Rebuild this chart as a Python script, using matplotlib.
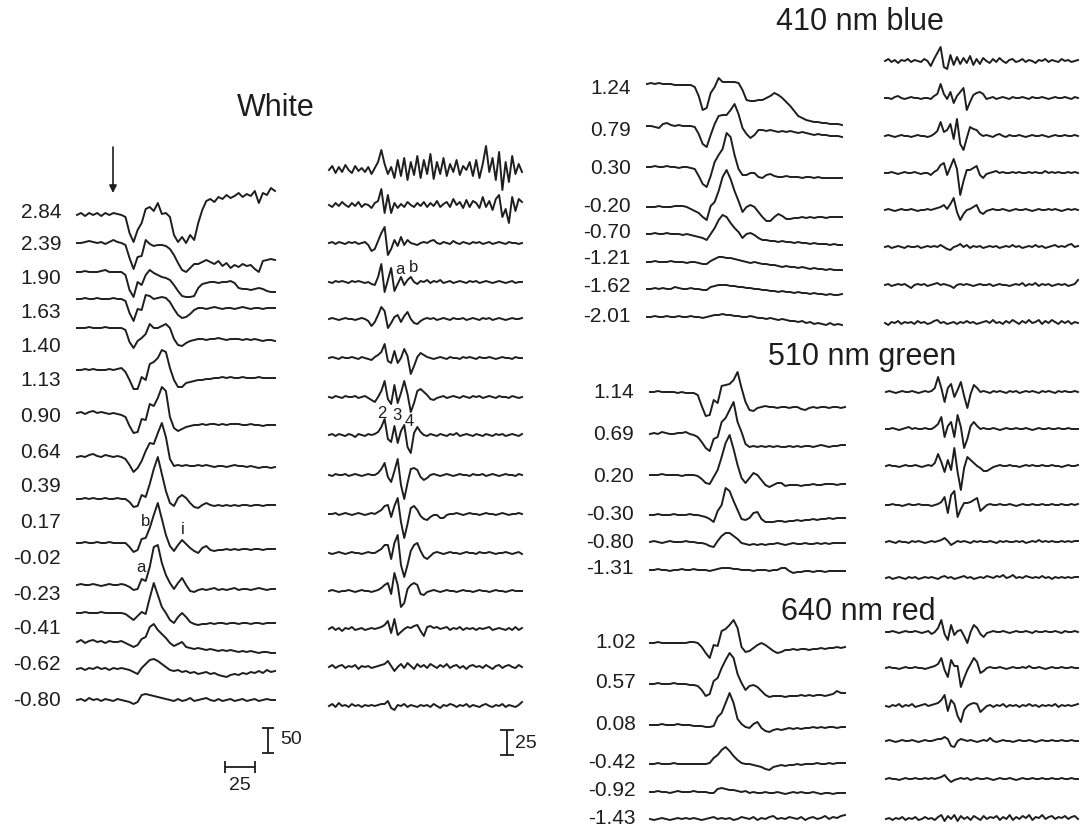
import numpy as np
import matplotlib
matplotlib.use("Agg")
import matplotlib.pyplot as plt

plt.rcParams["font.family"] = ["Liberation Sans", "DejaVu Sans"]

# Sample times (ms relative to the flash) for the ERG and oscillatory-potential sweeps
ERG_T = np.linspace(-30, 135, 50)
OP_T = np.linspace(-30, 135, 60)

# ---------------- White flash series (log cd s m^-2) ----------------
white_labels = ["2.84", "2.39", "1.90", "1.63", "1.40", "1.13", "0.90", "0.64",
                "0.39", "0.17", "-0.02", "-0.23", "-0.41", "-0.62", "-0.80"]

# ERG responses, µV
white_erg = [
    [0,4,-2,4,0,4,-2,4,0,4, 2,0,-4,-36,-54,-30,-16,12,16,8, 24,2,4,-4,-40,-54,-44,-56,-40,-50, -16,10,28,32,26,36,32,40,34,38, 44,36,42,38,48,24,44,40,54,48],
    [0,0,2,4,2,0,2,-2,2,6, 2,0,-4,-30,-52,-28,-26,6,-2,-6, -4,-4,-6,-12,-24,-40,-54,-58,-50,-42, -42,-38,-34,-38,-42,-36,-46,-40,-50,-44, -48,-42,-46,-44,-52,-58,-36,-34,-32,-34],
    [0,0,2,0,0,0,2,4,0,0, 0,0,-6,-36,-50,-20,-26,-6,4,-2, -6,-10,-12,-16,-26,-38,-48,-50,-50,-48, -32,-24,-22,-20,-20,-22,-20,-20,-18,-22, -32,-34,-34,-36,-34,-32,-34,-38,-40,-40],
    [0,0,2,0,0,2,0,0,0,2, 0,0,-4,-28,-44,-20,-22,8,6,0, 2,4,2,-6,-20,-32,-38,-36,-30,-22, -18,-18,-20,-18,-16,-18,-20,-18,-18,-20, -18,-16,-18,-20,-18,-18,-20,-18,-18,-18],
    [0,0,0,2,0,0,0,2,0,0, 0,0,-4,-28,-40,-26,-20,-12,8,0, 0,4,8,0,-22,-34,-36,-30,-26,-24, -22,-22,-24,-22,-22,-20,-22,-24,-22,-22, -22,-24,-22,-24,-22,-24,-26,-24,-24,-26],
    [0,0,2,0,2,0,0,0,2,0, 2,4,-4,-20,-38,-38,-14,-20,12,16, 24,40,36,4,-20,-34,-34,-26,-24,-22, -20,-20,-18,-18,-16,-16,-14,-16,-14,-16, -16,-14,-16,-16,-16,-14,-16,-16,-16,-16],
    [0,2,-2,2,4,0,2,0,-2,0, -2,-4,-8,-26,-40,-38,-12,-14,18,14, 30,52,44,-8,-30,-36,-32,-28,-26,-24, -24,-22,-24,-22,-22,-24,-22,-24,-22,-22, -22,-24,-24,-22,-24,-24,-26,-24,-24,-24],
    [0,2,0,4,6,2,0,4,2,0, 2,0,-4,-16,-30,-22,-8,12,28,26, 48,68,40,-4,-18,-16,-18,-16,-18,-18, -16,-18,-16,-18,-20,-18,-18,-20,-18,-16, -18,-18,-20,-18,-20,-22,-20,-20,-22,-20],
    [0,0,2,0,2,0,0,2,0,0, 2,0,0,-6,-16,-14,8,4,30,60, 84,50,16,-8,-14,2,8,2,-8,-16, -18,-12,-8,-12,-14,-12,-14,-12,-14,-12, -14,-12,-12,-14,-12,-12,-14,-12,-12,-12],
    [0,0,2,0,0,2,0,0,2,0, 0,0,0,-8,-18,-14,8,10,30,56, 80,48,16,-6,-16,-4,6,-2,-10,-16, -20,-10,-6,-14,-16,-14,-14,-12,-14,-12, -14,-12,-12,-14,-12,-12,-14,-12,-12,-12],
    [0,2,0,0,2,0,-2,0,2,0, 0,2,0,-4,-10,-8,12,8,36,76, 80,44,20,4,-8,4,14,0,-12,-14, -10,-8,-10,-8,-6,-10,-8,-10,-8,-6, -10,-8,-8,-10,-8,-6,-8,-10,-8,-8],
    [0,0,2,0,0,0,2,0,0,0, 0,0,-2,-8,-14,-6,2,-2,30,60, 36,12,0,-14,-20,-8,0,-8,-18,-22, -24,-22,-22,-20,-22,-20,-20,-22,-20,-20, -22,-20,-20,-22,-20,-20,-22,-20,-20,-20],
    [0,4,-2,2,4,0,2,-2,2,0, 0,2,-2,-6,-10,-6,6,10,30,36, 24,16,8,-2,-8,-4,0,-10,-12,-14, -12,-14,-16,-14,-16,-18,-16,-18,-16,-18, -20,-18,-20,-18,-20,-22,-20,-20,-22,-22],
    [0,2,-2,2,0,4,0,2,-2,2, 0,2,0,-2,-6,-10,2,10,18,20, 16,10,4,-2,-4,-2,-6,-4,-8,-6, -10,-8,-6,-10,-8,-12,-14,-16,-12,-10, -12,-8,-10,-6,-8,-4,-8,-2,-6,-4],
    [0,2,-2,4,0,2,-2,2,0,-2, 2,0,-2,-4,-8,-4,10,12,10,8, 6,4,2,0,-2,2,-2,0,4,-2, 0,2,4,0,-2,2,-2,0,2,-2, 0,2,-2,0,2,-2,0,2,0,0],
]

# Oscillatory potentials, µV
white_op = [
    [0,4,-3,3,-2,5,0,-3,4,-1, 2,-2,3,-4,2,8,20,6,-4,3, -8,10,-6,12,-10,8,-5,14,-8,10, -4,16,-9,8,-4,12,-6,6,-2,10, -5,4,0,8,-6,10,-8,6,24,-2, 12,-10,18,-20,8,-12,14,-4,6,-2],
    [0,-2,2,-1,3,0,-2,2,-1,3, -2,1,0,-3,2,4,16,-8,10,-8, 2,-3,1,-2,3,0,-2,2,-1,3, -2,2,-1,4,-2,1,3,-2,6,0, 3,-3,5,-2,4,2,-3,8,-2,4, -5,6,10,-12,-4,-18,8,-6,6,3],
    [0,1,-1,1,0,-1,1,0,1,-1, 0,1,-2,-8,-6,2,10,16,-12,-6, 3,-3,6,-2,3,0,-1,-2,0,1, 0,2,3,0,-1,1,0,-1,2,0, -1,1,0,-1,1,0,1,-1,0,1, -1,0,1,0,-1,1,0,0,-1,0],
    [0,-1,1,0,1,0,-1,1,0,1, 0,-1,0,-2,-3,5,18,-10,2,14, -9,-2,5,-3,2,5,0,-2,1,0, 2,-1,1,0,2,-1,0,1,-1,0, 1,0,-1,1,0,1,-1,0,1,0, -1,0,1,0,-1,0,1,-1,0,0],
    [0,1,0,-1,0,1,0,0,-1,0, 1,0,-2,-7,-3,4,12,8,-9,-4, 2,4,-3,3,7,0,-4,-5,-2,0, 1,0,1,-1,0,1,0,-1,1,0, 0,1,-1,0,1,0,-1,1,0,1, -1,0,1,0,-1,0,1,0,0,1],
    [0,1,0,-1,1,0,0,1,0,-1, 1,0,-1,-2,1,3,6,14,-3,-5, 7,-5,0,9,2,-16,-8,1,5,3, 1,0,-1,0,1,0,-1,1,0,0, -1,1,0,1,0,-1,1,0,0,1, 0,-1,0,1,0,0,-1,1,0,0],
    [0,-1,1,0,-1,1,0,0,1,-1, 0,1,-1,-3,-5,0,6,16,-2,-7, 12,-6,4,16,3,-15,-6,6,8,5, 2,-2,-3,-1,0,1,-1,0,1,0, -1,1,0,-1,1,0,1,-1,0,1, 0,-1,1,0,0,-1,1,0,-1,0],
    [0,1,-1,1,0,-1,1,0,-2,1, 0,-1,1,0,1,3,8,16,-4,-7, 9,-8,4,10,-12,-18,2,8,3,0, -1,1,0,-1,1,0,-1,1,0,2, -1,0,1,0,-1,1,0,-1,1,0, -1,1,0,1,-1,0,1,0,-1,1],
    [0,-1,1,0,0,1,-1,0,1,0, -1,0,1,0,0,2,6,12,-2,-7, 4,16,-10,-24,-8,6,7,5,-2,-5, -3,0,1,0,-1,0,1,0,-1,0, 1,0,0,-1,1,0,0,1,-1,0, 1,0,-1,0,1,0,0,-1,1,0],
    [0,0,1,-1,0,1,0,-1,0,1, 0,-1,0,1,0,2,4,8,9,-3, 8,16,-8,-24,-10,6,8,4,-2,-5, -6,-3,-1,-1,-4,-4,-1,0,0,1, 0,-1,0,1,0,0,-1,0,1,0, 0,-1,0,1,0,-1,0,0,1,0],
    [0,-1,0,1,0,-1,0,1,0,0, -1,0,1,0,0,2,4,8,8,-6, 10,18,-12,-24,-12,2,8,10,2,-4, -6,-3,0,1,0,-1,0,1,0,0, -1,0,1,0,0,-1,1,0,0,1, 0,-1,0,0,1,0,-1,0,1,-1],
    [0,1,0,-1,0,0,1,0,-1,0, 1,0,0,-1,0,1,3,6,8,-3, 18,6,-16,-12,2,6,8,6,-3,-4, -1,0,1,0,-1,0,1,0,0,-1, 0,1,0,0,-1,0,1,0,0,-1, 0,1,0,0,-1,0,1,0,0,0],
    [0,2,-1,1,-2,1,0,2,-1,0, 1,-1,0,1,0,1,2,4,8,-4, 10,-6,-3,0,2,1,3,4,-2,-7, 2,3,1,2,0,1,2,-1,1,0, 2,-1,1,0,1,-1,1,0,1,2, -1,0,1,0,-1,1,-1,2,-1,1],
    [0,2,-1,1,2,-1,1,0,2,-2, 1,0,1,-1,0,1,2,3,6,1, -4,0,3,-1,4,1,-2,3,0,2, -1,3,1,-1,2,0,3,-1,1,2, -1,1,-2,1,2,0,1,-1,2,0, -2,1,2,-1,1,2,0,-1,2,0],
    [0,2,-1,3,0,1,-1,2,0,1, -1,1,0,1,0,1,2,2,5,-2, -4,1,0,2,-1,1,0,-1,1,0, 1,-1,2,0,-2,1,0,2,1,-1, 1,0,2,-1,1,0,-1,1,2,0, -1,1,0,2,-1,1,0,-1,1,4],
]

# ---------------- 410 nm (blue) series ----------------
blue_labels = ["1.24", "0.79", "0.30", "-0.20", "-0.70", "-1.21", "-1.62", "-2.01"]
blue_erg = [
    [0,2,0,2,0,0,0,-2,-2,-2, -2,-2,-6,-24,-52,-48,-18,-6,12,4, 4,4,4,2,-12,-32,-34,-34,-32,-32, -28,-24,-18,-22,-28,-36,-44,-54,-64,-68, -72,-74,-76,-76,-78,-78,-80,-80,-80,-82],
    [0,0,-2,-4,4,6,2,0,2,0, 0,0,-2,-16,-36,-42,-18,4,20,22, 22,32,44,24,-4,-16,-24,-18,-8,-8, -10,-8,-10,-12,-10,-12,-10,-12,-14,-12, -14,-16,-18,-16,-18,-18,-20,-20,-20,-22],
    [0,0,2,0,0,2,0,0,-2,0, 0,-2,-4,-18,-34,-40,-18,10,24,36, 68,60,24,-4,-16,-16,-12,-12,-20,-22, -16,-14,-18,-20,-20,-18,-20,-20,-20,-22, -20,-20,-22,-20,-22,-22,-22,-22,-22,-22],
    [0,0,0,2,0,0,0,2,2,2, 0,-4,-8,-12,-20,-26,2,10,32,60, 74,56,32,12,-10,0,4,0,-10,-20, -28,-28,-20,-14,-18,-24,-24,-22,-22,-20, -22,-20,-22,-20,-20,-22,-20,-20,-20,-20],
    [0,0,2,0,0,2,0,0,0,-2, 0,-2,-4,-6,-8,-12,0,12,28,38, 34,22,12,4,-8,0,2,-2,-8,-12, -12,-14,-14,-16,-14,-16,-16,-18,-16,-18, -18,-20,-18,-20,-20,-20,-22,-20,-22,-22],
    [0,0,2,0,0,0,2,0,0,0, -2,0,0,-2,-4,-4,2,6,10,10, 8,8,6,4,2,0,-2,0,-2,-4, -4,-6,-6,-8,-10,-8,-10,-10,-12,-10, -12,-14,-12,-14,-14,-16,-14,-16,-16,-16],
    [0,0,2,0,2,0,0,4,2,0, 0,2,0,0,-2,-2,4,6,8,8, 8,6,6,4,4,2,2,0,0,-2, -2,-4,-4,-6,-4,-6,-6,-8,-6,-8, -8,-10,-8,-10,-10,-12,-10,-12,-12,-10],
    [0,0,2,0,0,2,0,0,2,0, 0,2,0,0,-2,0,2,4,4,6, 4,4,2,2,0,0,2,0,-2,-2, -4,-2,-4,-6,-4,-6,-8,-8,-10,-8, -12,-10,-14,-12,-14,-16,-12,-16,-14,-16],
]
blue_op = [
    [0,2,-1,1,-2,1,0,2,-1,1, 0,-1,2,0,-5,2,8,14,-6,-8, 6,-4,4,-3,3,-2,5,-4,2,-3, 3,0,-2,2,-1,3,0,-2,1,2, -1,0,2,-1,1,0,-2,1,0,2, -1,1,0,-1,2,0,1,-1,0,1],
    [0,0,-1,1,2,0,-1,0,1,0, 0,-1,0,0,-1,2,4,14,4,-1, 6,-5,2,6,10,-12,-4,3,5,6, 4,-1,0,1,-1,0,1,0,-1,1, 0,0,1,0,-1,1,0,0,1,0, -1,0,1,0,0,1,0,-1,1,0],
    [0,1,0,-1,0,1,0,0,-1,0, 1,0,0,-1,0,2,5,14,4,6, 12,-3,17,-8,-14,-2,9,7,6,2, 0,1,0,-1,1,2,0,-1,1,0, 0,1,0,-1,0,1,0,0,1,0, -1,0,1,0,0,1,0,0,1,0],
    [0,0,1,0,-1,0,1,0,0,1, 0,-1,0,0,-2,1,3,8,10,-2, 6,14,4,-22,-8,3,3,5,7,-2, -5,-1,0,1,2,0,1,0,0,1, 0,1,0,0,1,0,1,0,0,2, 0,1,0,1,0,0,1,0,1,0],
    [0,1,0,-1,0,1,0,0,1,0, -1,0,0,1,0,1,2,3,5,1, 6,12,-2,-10,-4,0,1,3,5,-2, -4,-1,0,1,0,0,1,0,-1,0, 1,0,0,1,0,-1,0,1,0,0, 1,0,1,0,-1,0,1,0,1,0],
    [0,1,-1,0,1,0,-1,1,0,0, 1,-1,0,1,0,1,0,2,0,-2, -3,0,1,3,0,2,-1,1,0,1, -1,0,1,0,1,-1,0,1,0,2, 0,1,-1,0,1,0,2,0,1,-1, 0,1,2,0,1,0,2,3,0,1],
    [0,1,-1,0,1,0,1,-1,-3,0, 1,0,1,-1,0,1,2,0,1,0, -1,-3,0,1,0,1,0,-1,0,1, 0,0,1,-1,0,1,0,0,-1,0, 1,0,2,-1,1,0,2,-1,1,0, 1,-1,0,1,0,1,-1,0,1,5],
    [0,-2,1,0,2,-1,1,0,1,-1, 2,0,1,-1,0,2,3,0,1,-1, 0,1,-1,1,0,2,0,1,-1,0, 1,2,0,3,0,1,-1,2,0,3, 1,-1,2,0,3,0,1,3,-1,2, 0,3,1,-1,2,0,2,-1,1,0],
]

# ---------------- 510 nm (green) series ----------------
green_labels = ["1.14", "0.69", "0.20", "-0.30", "-0.80", "-1.31"]
green_erg = [
    [0,0,2,0,0,0,0,-2,0,-2, -2,-2,-6,-28,-48,-46,-16,-22,12,14, 16,24,40,8,-20,-36,-38,-32,-30,-28, -30,-30,-32,-30,-30,-32,-30,-30,-34,-36, -32,-30,-32,-30,-30,-32,-30,-30,-32,-30],
    [0,2,0,4,2,0,0,2,2,4, 0,-2,-6,-16,-28,-34,-10,-6,24,32, 48,64,24,4,-20,-26,-24,-26,-24,-26, -24,-26,-24,-26,-26,-24,-26,-24,-26,-24, -24,-26,-24,-22,-24,-26,-24,-24,-22,-22],
    [0,0,0,2,0,0,0,0,-2,0, 0,0,-2,-8,-16,-18,-4,10,36,64, 80,52,20,-6,-16,-6,4,0,-10,-20, -24,-20,-16,-16,-22,-20,-20,-20,-22,-20, -20,-18,-20,-20,-18,-18,-18,-20,-18,-18],
    [0,0,2,0,0,0,2,0,0,0, 2,0,0,-2,-4,-8,-14,8,20,54, 48,28,10,-8,-10,-6,4,6,-8,-14, -14,-14,-12,-12,-14,-12,-12,-10,-12,-10, -10,-8,-10,-8,-8,-6,-8,-6,-6,-6],
    [0,2,0,-2,0,2,0,0,0,2, 0,0,-2,-2,-4,-8,-10,2,12,18, 18,12,6,-2,-4,-6,-4,-6,-4,-6, -4,-4,-2,-4,-6,-4,-2,-4,-4,-2, -4,-4,-2,-4,-2,-4,-2,-2,-2,-2],
    [0,0,2,0,0,-2,0,0,2,0, 0,2,0,0,0,-2,0,2,4,4, 4,2,2,0,0,0,-2,0,0,0, -2,0,0,4,4,-2,-6,-4,-4,-2, -2,-4,-2,-2,-4,-2,-2,-2,-2,-2],
]
green_op = [
    [0,1,0,-1,0,1,0,0,1,0, -1,0,1,0,1,4,15,4,-10,4, 8,-5,2,10,-4,-16,-2,7,4,0, 1,0,-1,1,0,1,0,-1,1,0, 1,-1,0,1,0,1,0,-1,1,0, 1,0,-1,1,0,1,0,0,1,0],
    [0,0,1,0,-1,0,1,2,0,1, 0,0,1,0,0,2,5,12,-8,3, 7,-8,14,2,-19,-10,3,7,3,0, 1,0,0,1,0,-1,0,1,0,0, 1,0,0,1,0,-1,0,1,0,0, 1,0,0,1,0,0,1,0,0,0],
    [0,1,0,0,-1,0,1,0,0,1, 0,-1,0,1,0,3,12,4,-6,6, -4,18,-6,-24,-2,9,6,3,0,-2, -5,-5,-3,-1,0,1,0,0,1,0, 0,-1,0,1,0,1,0,0,1,0, 0,1,0,0,-1,0,1,0,0,1],
    [0,0,1,0,0,-1,0,1,0,0, 1,0,0,0,-1,0,1,3,8,-8, 10,14,-12,-4,2,2,3,5,7,-6, -3,0,1,0,0,1,0,0,1,0, -1,0,1,0,0,1,0,0,1,0, 0,1,0,0,1,0,0,1,0,1],
    [0,1,0,-1,1,0,0,-1,1,0, 1,0,-1,0,1,0,1,2,4,1, -3,-1,1,0,1,0,-1,1,0,1, 0,0,1,0,-1,1,0,1,0,0, 1,0,1,-1,0,1,0,2,0,1, 0,1,0,0,1,0,1,0,1,1],
    [0,1,-1,0,1,0,-1,1,0,1, -1,0,1,0,1,0,-1,1,2,0, 1,-1,0,1,2,0,1,-1,0,1, 0,2,1,0,2,1,3,0,1,3, 0,1,0,2,1,0,1,0,2,0, 1,-1,1,0,1,0,1,0,1,1],
]

# ---------------- 640 nm (red) series ----------------
red_labels = ["1.02", "0.57", "0.08", "-0.42", "-0.92", "-1.43"]
red_erg = [
    [0,0,2,0,0,0,0,0,0,0, 2,2,0,-8,-20,-30,-4,-6,24,28, 36,46,30,-8,-18,-16,-10,-4,0,-4, -10,-16,-20,-18,-14,-14,-12,-14,-12,-12, -14,-12,-12,-10,-12,-10,-10,-8,-10,-8],
    [0,0,2,0,0,0,2,0,0,0, -2,-2,-4,-12,-24,-20,6,12,32,48, 62,52,20,2,-12,-4,-2,-6,-14,-22, -26,-24,-24,-24,-26,-24,-24,-24,-22,-24, -22,-24,-22,-22,-24,-22,-20,-14,-18,-18],
    [0,0,0,2,0,0,0,2,0,0, 0,-2,-2,-2,-4,-4,-2,16,24,44, 64,44,12,2,-4,-6,2,6,-6,-12, -14,-10,-8,-10,-8,-6,-8,-6,-8,-6, -6,-4,-6,-4,-6,-4,-4,-6,-4,-4],
    [0,0,2,0,0,0,2,0,0,0, 0,0,0,0,0,2,12,18,28,34, 26,16,8,2,0,0,-2,-4,-6,-10, -12,-6,-4,-2,-4,-2,-2,0,-2,0, 0,0,2,0,0,2,0,2,2,2],
    [0,0,2,0,0,-2,0,2,0,0, 0,2,0,0,0,-2,-2,6,8,6, 4,4,2,0,2,-2,0,-2,-2,0, -2,-2,0,-2,-4,-2,0,-2,0,-2, -2,0,-2,-4,-2,-2,-4,-2,-2,-2],
    [0,-2,0,2,0,-2,0,2,0,2, 0,2,0,-2,0,2,4,0,2,0, 2,-2,0,4,2,0,4,-2,2,0, 4,6,0,2,0,4,2,0,4,-2, 2,4,0,2,6,0,4,2,6,8],
]
red_op = [
    [0,0,1,0,-1,0,1,0,0,1, 0,-1,0,1,-2,0,4,12,-2,-8, 7,-3,1,2,-4,-11,0,7,4,-2, -5,-1,0,1,0,0,1,0,-1,0, 1,0,0,1,0,-1,1,0,0,1, 0,0,1,0,-1,1,0,0,1,0],
    [0,1,0,0,-1,0,1,0,0,1, 0,0,-1,0,1,2,4,10,-2,-9, 8,2,2,-19,-10,-2,4,10,6,-5, -3,0,1,0,0,1,0,-1,0,1, 0,0,1,0,2,0,0,1,0,-1, 0,1,0,0,1,0,0,1,0,0],
    [0,-1,1,0,2,-1,1,0,2,-1, 0,1,2,0,1,2,3,6,11,-5, 6,2,-10,-16,-4,0,2,3,2,-6, -3,0,1,-1,1,0,2,-1,1,0, 1,-1,1,0,2,0,1,-1,1,0, 1,0,2,-1,1,0,1,0,1,2],
    [0,1,0,-1,0,1,0,0,1,0, -1,0,1,0,0,1,2,2,4,2, -5,-6,0,2,1,0,1,0,-1,0, 1,0,3,0,-1,0,1,0,0,-1, 0,1,0,0,1,0,-1,0,1,0, 0,1,0,0,1,0,0,1,0,0],
    [0,1,0,0,-1,0,1,0,0,1, 0,0,1,0,1,0,1,2,4,0, -3,-1,0,1,0,1,-1,0,1,0, 0,1,0,-1,0,1,0,0,1,0, -1,0,1,0,0,1,0,0,1,0, 0,1,0,0,1,0,0,1,0,0],
    [0,1,-1,1,0,2,-1,1,0,2, -1,0,2,0,1,-1,2,4,-2,3, 0,4,-2,3,0,2,-1,3,1,-1, 3,0,2,1,3,-1,2,0,4,-1, 2,0,3,1,4,-1,2,1,4,0, 2,3,0,2,1,3,0,2,3,0],
]

# ---------------- layout (figure pixels) ----------------
W, H = 1087, 831
INK = "#1e1e1e"
LW = 1.4
ERG_PX_PER_UV = 0.5
OP_PX_PER_UV = 1.0

WHITE_ERG_ROWS = [215, 243, 272, 299, 328, 370, 413, 457, 499, 543, 585, 613, 642, 669, 700]
WHITE_OP_ROWS = [170, 205, 243, 282, 319, 358, 397, 435, 475, 514, 553, 591, 629, 667, 706]
WHITE_LABEL_ROWS = [212, 244, 279, 313, 347, 381, 417, 452, 487, 522, 558, 594, 629, 665, 700]
BLUE_ERG_ROWS = [84, 126, 167, 207, 234, 262, 289, 317]
BLUE_OP_ROWS = [61, 98, 136, 173, 210, 247, 285, 323]
BLUE_LABEL_ROWS = [88, 130, 168, 207, 232, 259, 287, 317]
GREEN_ERG_ROWS = [392, 434, 475, 515, 542, 570]
GREEN_OP_ROWS = [392, 429, 466, 505, 542, 578]
GREEN_LABEL_ROWS = [393, 435, 477, 515, 542, 569]
RED_ERG_ROWS = [643, 684, 725, 764, 792, 819]
RED_OP_ROWS = [632, 668, 706, 741, 779, 819]
RED_LABEL_ROWS = [643, 683, 725, 763, 790, 818]

fig = plt.figure(figsize=(W / 100, H / 100), dpi=100)


class Panel:
    """A stack of sweeps sharing one time axis and one µV scale."""

    def __init__(self, x0, x1, rows, px_per_uv, t, traces):
        self.top = min(rows) - 70
        bot = max(rows) + 70
        self.k = px_per_uv
        self.ax = fig.add_axes([x0 / W, 1 - bot / H, (x1 - x0) / W, (bot - self.top) / H])
        self.ax.set_xlim(t[0], t[-1])
        self.ax.set_ylim(-(bot - self.top) / px_per_uv, 0)
        self.ax.axis("off")
        for v, r in zip(traces, rows):
            self.ax.plot(t, np.asarray(v, float) + self.y(r), color=INK, lw=LW,
                         solid_joinstyle="round", clip_on=False)

    def y(self, row):
        return -(row - self.top) / self.k

    def line(self, xs, ys):
        self.ax.plot(xs, ys, color=INK, lw=1.3, clip_on=False, solid_capstyle="butt")


white_erg_panel = Panel(77, 275, WHITE_ERG_ROWS, ERG_PX_PER_UV, ERG_T, white_erg)
white_op_panel = Panel(329, 522, WHITE_OP_ROWS, OP_PX_PER_UV, OP_T, white_op)
Panel(647, 842, BLUE_ERG_ROWS, ERG_PX_PER_UV, ERG_T, blue_erg)
Panel(885, 1078, BLUE_OP_ROWS, OP_PX_PER_UV, OP_T, blue_op)
Panel(650, 845, GREEN_ERG_ROWS, ERG_PX_PER_UV, ERG_T, green_erg)
Panel(886, 1078, GREEN_OP_ROWS, OP_PX_PER_UV, OP_T, green_op)
Panel(650, 845, RED_ERG_ROWS, ERG_PX_PER_UV, ERG_T, red_erg)
Panel(886, 1078, RED_OP_ROWS, OP_PX_PER_UV, OP_T, red_op)

# flash marker
p = white_erg_panel
p.ax.annotate("", xy=(0, p.y(193)), xytext=(0, p.y(147)),
              arrowprops=dict(arrowstyle="-|>", color=INK, lw=1.2,
                              mutation_scale=11, shrinkA=0, shrinkB=0))

# scale bars: 50 µV / 25 ms for the ERGs, 25 µV for the OPs
yb = p.y(753)
p.line([129, 129], [yb, yb + 50])
p.line([124, 134], [yb, yb])
p.line([124, 134], [yb + 50, yb + 50])
yh = p.y(767)
p.line([93, 118], [yh, yh])
p.line([93, 93], [yh - 12, yh + 12])
p.line([118, 118], [yh - 12, yh + 12])

q = white_op_panel
yo = q.y(755)
q.line([122, 122], [yo, yo + 25])
q.line([116, 128], [yo, yo])
q.line([116, 128], [yo + 25, yo + 25])

# text layer in pixel coordinates
ov = fig.add_axes([0, 0, 1, 1])
ov.set_xlim(0, W)
ov.set_ylim(H, 0)
ov.axis("off")

TITLE_FS = 22
LABEL_FS = 15
SMALL_FS = 12

ov.text(276, 108, "White", fontsize=TITLE_FS, ha="center", va="center", color=INK)
ov.text(860, 22, "410 nm blue", fontsize=TITLE_FS, ha="center", va="center", color=INK)
ov.text(862, 357, "510 nm green", fontsize=TITLE_FS, ha="center", va="center", color=INK)
ov.text(858, 612, "640 nm red", fontsize=TITLE_FS, ha="center", va="center", color=INK)

for labels, rows, xr in [(white_labels, WHITE_LABEL_ROWS, 61),
                         (blue_labels, BLUE_LABEL_ROWS, 631),
                         (green_labels, GREEN_LABEL_ROWS, 634),
                         (red_labels, RED_LABEL_ROWS, 636)]:
    for s, r in zip(labels, rows):
        ov.text(xr, r, s, fontsize=LABEL_FS, ha="right", va="center", color=INK)

for s, x, y in [("b", 146, 522), ("i", 183, 530), ("a", 141, 567),
                ("a", 400, 270), ("b", 414, 267),
                ("2", 382, 413), ("3", 397, 415), ("4", 409, 422)]:
    ov.text(x, y, s, fontsize=SMALL_FS, ha="center", va="center", color=INK)

ov.text(280, 740, "50", fontsize=14, ha="left", va="center", color=INK)
ov.text(240, 786, "25", fontsize=14, ha="center", va="center", color=INK)
ov.text(515, 744, "25", fontsize=14, ha="left", va="center", color=INK)

fig.savefig("out.png", dpi=100, facecolor="white")
